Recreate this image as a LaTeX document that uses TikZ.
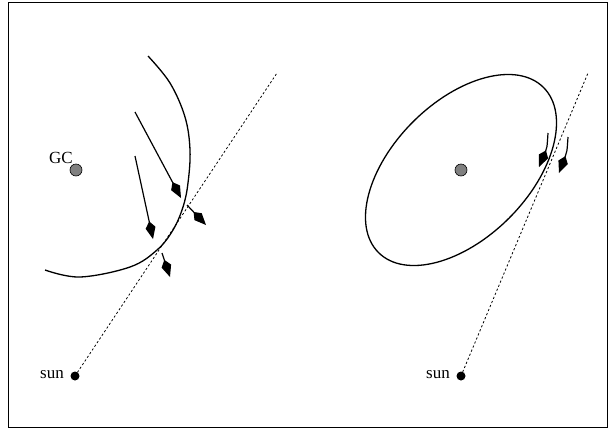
\documentclass[tikz,border=0pt]{standalone}
\usepackage{fontspec}
\setmainfont{Liberation Serif}
\usetikzlibrary{arrows.meta}
\begin{document}
\begin{tikzpicture}[x=1pt,y=-1pt,
  curve/.style={line width=1.3pt},
  vec/.style={line width=1.2pt,-{Kite[length=18pt,width=10pt,inset=6.5pt]}},
  los/.style={line width=0.8pt,dash pattern=on 2.2pt off 2.2pt},
  sundot/.style={circle,fill=black,inner sep=0pt,minimum size=9pt},
  gcdot/.style={circle,draw=black,line width=0.6pt,fill=black!50,inner sep=0pt,minimum size=12pt},
  lbl/.style={font=\fontsize{17}{19}\selectfont,inner sep=0pt}]
\useasboundingbox (0,0) rectangle (611,429);
\draw[line width=1pt] (8,2) rectangle (607,427);
% left panel
\node[gcdot] (gc) at (76,170) {};
\node[lbl] (gcl) at (61,158) {GC};
\node[sundot] (sunL) at (75,376) {};
\node[lbl,anchor=east] (sunLl) at (64,375) {sun};
\coordinate (losL) at (277,73);
\draw[los] (sunL.center) -- (losL);
\draw[curve] plot[smooth,tension=0.6] coordinates {(148,56) (170,83) (185,117) (190,150) (188,183) (183,207) (173,230) (157,250) (130,267) (80,277) (45,270)};
\coordinate (a1s) at (135,112); \coordinate (a1e) at (181,198);
\coordinate (a2s) at (135,156); \coordinate (a2e) at (153,239);
\coordinate (a3s) at (187,205); \coordinate (a3e) at (206,225);
\coordinate (a4s) at (162,253); \coordinate (a4e) at (170,277);
\draw[vec] (a1s) -- (a1e);
\draw[vec] (a2s) -- (a2e);
\draw[vec] (a3s) -- (a3e);
\draw[vec] (a4s) -- (a4e);
% right panel
\node[gcdot] (gc2) at (461,170) {};
\node[sundot] (sunR) at (461,376) {};
\node[lbl,anchor=east] (sunRl) at (450,375) {sun};
\coordinate (losR) at (588,73);
\draw[los] (sunR.center) -- (losR);
\draw[curve] (461,170) ellipse[x radius=116.7,y radius=68,rotate=45];
\coordinate (b1s) at (548,133); \coordinate (b1e) at (539,167);
\coordinate (b2s) at (568,137); \coordinate (b2e) at (559,173);
\draw[vec] (b1s) .. controls (547,148) .. (b1e);
\draw[vec] (b2s) .. controls (567,152) .. (b2e);
\end{tikzpicture}
\end{document}
